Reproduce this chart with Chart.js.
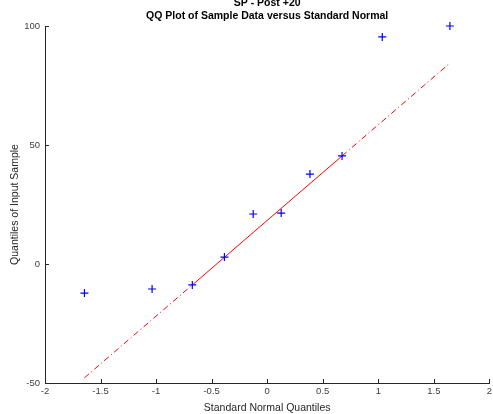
<!DOCTYPE html>
<html>
<head>
<meta charset="utf-8">
<script src="https://cdn.jsdelivr.net/npm/chart.js@4/dist/chart.umd.min.js"></script>
<style>
  html, body { margin: 0; padding: 0; background: #fff; overflow: hidden; }
  #wrap { width: 493px; height: 414px; position: relative; overflow: hidden; }
</style>
</head>
<body>
<div id="wrap"><canvas id="c" width="495" height="414"></canvas></div>
<script>
// Theoretical standard normal quantiles (x) and sample quantiles (y)
const normalQuantiles = [-1.645, -1.036, -0.674, -0.385, -0.126, 0.126, 0.385, 0.674, 1.036, 1.645];
const sampleQuantiles = [-12.2, -10.5, -8.8, 2.9, 21.0, 21.4, 37.8, 45.4, 95.4, 100.0];
// Reference line through the first and third quartiles
const refLineX = [-1.645, -0.674, 0.674, 1.645];
const refLineY = [-47.8, -8.8, 45.4, 84.4];
const xTicks = [-2, -1.5, -1, -0.5, 0, 0.5, 1, 1.5, 2];
const yTicks = [-50, 0, 50, 100];
const titles = ['SP - Post +20', 'QQ Plot of Sample Data versus Standard Normal'];

const FONT = "'Liberation Sans', Arial, Helvetica, sans-serif";

const pts = normalQuantiles.map((x, i) => ({ x, y: sampleQuantiles[i] }));
const lineSolid = [{ x: refLineX[1], y: refLineY[1] }, { x: refLineX[2], y: refLineY[2] }];
const lineDashL = [{ x: refLineX[0], y: refLineY[0] }, { x: refLineX[1], y: refLineY[1] }];
const lineDashR = [{ x: refLineX[2], y: refLineY[2] }, { x: refLineX[3], y: refLineY[3] }];

const titlePlugin = {
  id: 'titles',
  afterDraw(chart) {
    const ctx = chart.ctx;
    const ca = chart.chartArea;
    const cx = (ca.left + ca.right) / 2;
    ctx.save();
    ctx.fillStyle = '#000';
    ctx.font = 'bold 10.5px ' + FONT;
    ctx.textAlign = 'center';
    ctx.textBaseline = 'middle';
    ctx.fillText(titles[0], cx, 3);
    ctx.fillText(titles[1], cx, 16);
    ctx.restore();
  }
};

const tickPlugin = {
  id: 'innerTicks',
  afterDraw(chart) {
    const ctx = chart.ctx;
    const xs = chart.scales.x, ys = chart.scales.y;
    const ca = chart.chartArea;
    ctx.save();
    ctx.strokeStyle = '#262626';
    ctx.lineWidth = 1;
    ctx.beginPath();
    xTicks.forEach(v => {
      const px = Math.round(xs.getPixelForValue(v)) + 0.5;
      ctx.moveTo(px, ca.bottom);
      ctx.lineTo(px, ca.bottom - 4);
    });
    yTicks.forEach(v => {
      const py = Math.round(ys.getPixelForValue(v)) + 0.5;
      ctx.moveTo(ca.left, py);
      ctx.lineTo(ca.left + 4, py);
    });
    ctx.stroke();
    ctx.restore();
  }
};

new Chart(document.getElementById('c'), {
  type: 'scatter',
  data: {
    datasets: [
      {
        label: 'sample',
        data: pts,
        pointStyle: 'cross',
        pointRadius: 4,
        pointBorderWidth: 1.2,
        borderColor: '#0000ff',
        backgroundColor: '#0000ff',
        showLine: false,
        clip: false,
        order: 0
      },
      {
        label: 'fit',
        data: lineSolid,
        showLine: true,
        borderColor: '#ff0000',
        borderWidth: 1,
        pointRadius: 0,
        order: 1
      },
      {
        label: 'extL',
        data: lineDashL,
        showLine: true,
        borderColor: '#ff0000',
        borderWidth: 1,
        borderDash: [6, 3, 1, 3],
        pointRadius: 0,
        order: 1
      },
      {
        label: 'extR',
        data: lineDashR,
        showLine: true,
        borderColor: '#ff0000',
        borderWidth: 1,
        borderDash: [6, 3, 1, 3],
        pointRadius: 0,
        order: 1
      }
    ]
  },
  options: {
    responsive: false,
    animation: false,
    devicePixelRatio: 1,
    layout: { padding: { top: 26, right: 0, left: 0, bottom: 0 } },
    plugins: {
      legend: { display: false },
      tooltip: { enabled: false },
      title: { display: false }
    },
    scales: {
      x: {
        type: 'linear',
        min: -2, max: 2,
        afterBuildTicks: s => { s.ticks = xTicks.map(v => ({ value: v })); },
        afterFit: s => { s.height = 31; },
        grid: { display: false, drawTicks: false },
        border: { display: true, color: '#262626', width: 1 },
        ticks: {
          color: '#404040',
          font: { family: FONT, size: 9.5 },
          padding: 3,
          maxRotation: 0,
          autoSkip: false,
          callback: v => String(v)
        },
        title: {
          display: true,
          text: 'Standard Normal Quantiles',
          color: '#262626',
          font: { family: FONT, size: 10.5 },
          padding: { top: 1, bottom: 0 }
        }
      },
      y: {
        type: 'linear',
        min: -50, max: 100,
        afterBuildTicks: s => { s.ticks = yTicks.map(v => ({ value: v })); },
        afterFit: s => { s.width = 45; },
        grid: { display: false, drawTicks: false },
        border: { display: true, color: '#262626', width: 1 },
        ticks: {
          color: '#404040',
          font: { family: FONT, size: 9.5 },
          padding: 5,
          autoSkip: false,
          callback: v => String(v)
        },
        title: {
          display: true,
          text: 'Quantiles of Input Sample',
          color: '#262626',
          font: { family: FONT, size: 10.5 },
          padding: { top: 9, bottom: 0 }
        }
      }
    }
  },
  plugins: [titlePlugin, tickPlugin]
});
</script>
</body>
</html>
